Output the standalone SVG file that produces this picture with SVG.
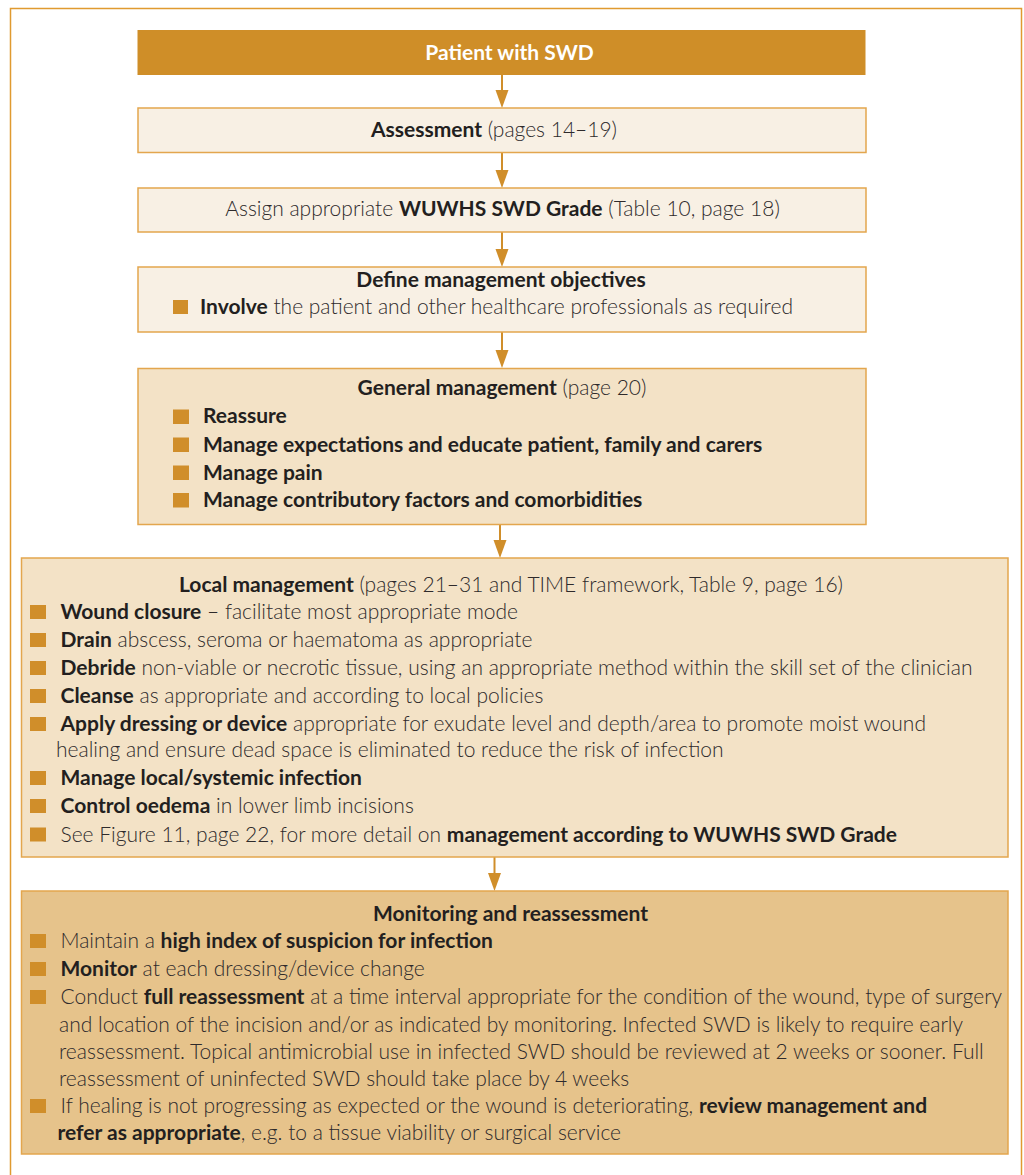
<svg xmlns="http://www.w3.org/2000/svg" width="1024" height="1175" viewBox="0 0 1024 1175">
<style>
text{font-family:Lato,"Open Sans","Liberation Sans",sans-serif;font-size:21px;fill:#2e2a2b;font-weight:300}
.b{font-weight:700;fill:#231f20}
.c{text-anchor:middle}
.w{fill:#ffffff;font-weight:700}
.lt{fill:#f8f0e4;stroke:#e3a64e;stroke-width:1.5}
.md{fill:#f3e2c6;stroke:#e3a64e;stroke-width:1.5}
.dk{fill:#e6c38b;stroke:#e3a64e;stroke-width:1.5}
.bu{fill:#d08e2a}
.ln{stroke:#d08e2a;stroke-width:2;fill:none}
.ah{fill:#d08e2a}
</style>
<rect x="0" y="0" width="1024" height="1175" fill="#ffffff"/>
<rect x="10.5" y="8.5" width="1011" height="1190" fill="none" stroke="#e09a30" stroke-width="1.5"/>

<g id="connectors">
<line class="ln" x1="502" y1="75" x2="502" y2="92"/><path class="ah" d="M495.5,90 L508.5,90 L502,108 Z"/>
<line class="ln" x1="502" y1="152" x2="502" y2="172"/><path class="ah" d="M495.5,170 L508.5,170 L502,188 Z"/>
<line class="ln" x1="502" y1="232" x2="502" y2="251"/><path class="ah" d="M495.5,249 L508.5,249 L502,267 Z"/>
<line class="ln" x1="502" y1="332" x2="502" y2="352"/><path class="ah" d="M495.5,350 L508.5,350 L502,368 Z"/>
<line class="ln" x1="500" y1="524" x2="500" y2="542"/><path class="ah" d="M493.5,540 L506.5,540 L500,558 Z"/>
<line class="ln" x1="494.5" y1="857" x2="494.5" y2="875"/><path class="ah" d="M488,873 L501,873 L494.5,891 Z"/>
</g>

<g id="patient">
<rect x="137.5" y="30" width="728" height="45" fill="#cf8e28"/>
<text class="w c" x="509.5" y="60">Patient with SWD</text>
</g>

<g id="assessment">
<rect class="lt" x="138" y="108" width="728" height="44.5"/>
<text class="c" x="494" y="137"><tspan class="b">Assessment</tspan> (pages 14–19)</text>
</g>

<g id="grade">
<rect class="lt" x="138" y="188" width="728" height="44"/>
<text class="c" x="502.5" y="216">Assign appropriate <tspan class="b">WUWHS SWD Grade</tspan> (Table 10, page 18)</text>
</g>

<g id="objectives">
<rect class="lt" x="138" y="267" width="728" height="65"/>
<text class="c b" x="501" y="287">Define management objectives</text>
<rect class="bu" x="173" y="300" width="15" height="14"/>
<text x="200" y="314"><tspan class="b">Involve</tspan> the patient and other healthcare professionals as required</text>
</g>

<g id="general">
<rect class="md" x="138" y="368.5" width="728" height="156"/>
<text class="c" x="502" y="395"><tspan class="b">General management</tspan> (page 20)</text>
<rect class="bu" x="173" y="409.5" width="16" height="14.5"/>
<text class="b" x="203" y="423">Reassure</text>
<rect class="bu" x="173" y="437.5" width="16" height="14.5"/>
<text class="b" x="203" y="451.5">Manage expectations and educate patient, family and carers</text>
<rect class="bu" x="173" y="465.5" width="16" height="14.5"/>
<text class="b" x="203" y="479.5">Manage pain</text>
<rect class="bu" x="173" y="493" width="16" height="14.5"/>
<text class="b" x="203" y="507">Manage contributory factors and comorbidities</text>
</g>

<g id="local">
<rect class="md" x="21.5" y="558" width="986.5" height="299"/>
<text class="c" x="511" y="592"><tspan class="b">Local management</tspan> (pages 21–31 and TIME framework, Table 9, page 16)</text>
<rect class="bu" x="30" y="605" width="16" height="14"/>
<text x="60.5" y="619"><tspan class="b">Wound closure</tspan> – facilitate most appropriate mode</text>
<rect class="bu" x="30" y="633" width="16" height="14"/>
<text x="60.5" y="647"><tspan class="b">Drain</tspan> abscess, seroma or haematoma as appropriate</text>
<rect class="bu" x="30" y="661" width="16" height="14"/>
<text x="60.5" y="675"><tspan class="b">Debride</tspan> non-viable or necrotic tissue, using an appropriate method within the skill set of the clinician</text>
<rect class="bu" x="30" y="689" width="16" height="14"/>
<text x="60.5" y="703"><tspan class="b">Cleanse</tspan> as appropriate and according to local policies</text>
<rect class="bu" x="30" y="717" width="16" height="14"/>
<text x="60.5" y="731"><tspan class="b">Apply dressing or device</tspan> appropriate for exudate level and depth/area to promote moist wound</text>
<text x="56" y="757">healing and ensure dead space is eliminated to reduce the risk of infection</text>
<rect class="bu" x="30" y="771" width="16" height="14"/>
<text class="b" x="60.5" y="785">Manage local/systemic infection</text>
<rect class="bu" x="30" y="799" width="16" height="14"/>
<text x="60.5" y="813"><tspan class="b">Control oedema</tspan> in lower limb incisions</text>
<rect class="bu" x="30" y="827.5" width="16" height="14"/>
<text x="60.5" y="841.5">See Figure 11, page 22, for more detail on <tspan class="b">management according to WUWHS SWD Grade</tspan></text>
</g>

<g id="monitoring">
<rect class="dk" x="21.5" y="891" width="986.5" height="263"/>
<text class="c b" x="510.5" y="920.5">Monitoring and reassessment</text>
<rect class="bu" x="30" y="934" width="16" height="14"/>
<text x="60.5" y="948"><tspan>Maintain a </tspan><tspan class="b">high index of suspicion for infection</tspan></text>
<rect class="bu" x="30" y="962" width="16" height="14"/>
<text x="60.5" y="976"><tspan class="b">Monitor</tspan> at each dressing/device change</text>
<rect class="bu" x="30" y="990" width="16" height="14"/>
<text x="60.5" y="1004">Conduct <tspan class="b">full reassessment</tspan> at a time interval appropriate for the condition of the wound, type of surgery</text>
<text x="59" y="1031.5">and location of the incision and/or as indicated by monitoring. Infected SWD is likely to require early</text>
<text x="59" y="1059">reassessment. Topical antimicrobial use in infected SWD should be reviewed at 2 weeks or sooner. Full</text>
<text x="59" y="1086">reassessment of uninfected SWD should take place by 4 weeks</text>
<rect class="bu" x="30" y="1099" width="16" height="14"/>
<text x="60.5" y="1113">If healing is not progressing as expected or the wound is deteriorating, <tspan class="b">review management and</tspan></text>
<text x="57.5" y="1140"><tspan class="b">refer as appropriate</tspan>, e.g. to a tissue viability or surgical service</text>
</g>
</svg>
